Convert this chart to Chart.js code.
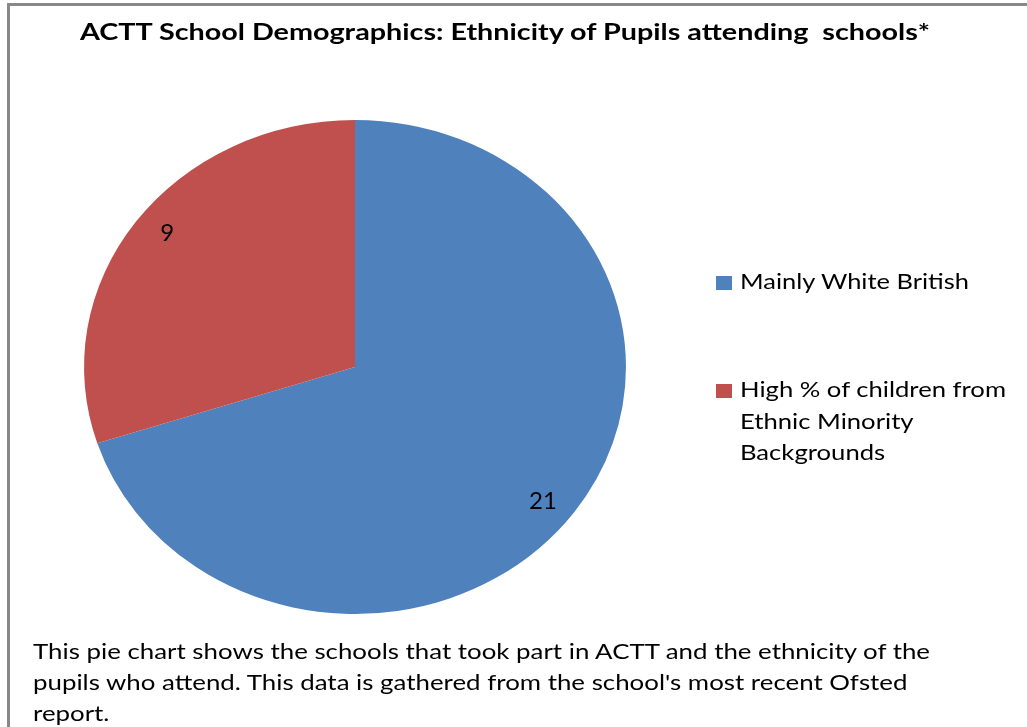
<!DOCTYPE html>
<html>
<head>
<meta charset="utf-8">
<script src="https://cdn.jsdelivr.net/npm/chart.js@4"></script>
<style>
  html, body { margin: 0; padding: 0; background: #fff; }
  body { width: 1027px; height: 727px; position: relative; overflow: hidden; font-family: Lato, "Open Sans", sans-serif; color: #000; }
  #frame { position: absolute; left: 7px; top: 3px; width: 1200px; height: 900px; border-left: 3px solid #888; border-top: 3px solid #888; box-sizing: border-box; }
  #pie { position: absolute; left: 0; top: 0; }
  .txt { position: absolute; white-space: pre; transform-origin: 0 0; }
  #title { left: 80px; top: 18px; font-size: 22px; font-weight: bold; }
  .legend-item { position: absolute; left: 716px; }
  .swatch { position: absolute; left: 0; width: 16px; height: 14px; }
  .legend-text { position: absolute; left: 24px; top: 0; font-size: 22px; line-height: 31.5px; white-space: pre; transform-origin: 0 0; }
  #caption { left: 33px; top: 635px; font-size: 21px; line-height: 31px; }
</style>
</head>
<body>
<div id="frame"></div>
<canvas id="pie" width="1027" height="727"></canvas>
<div id="title" class="txt"></div>
<div id="legend"></div>
<div id="caption" class="txt"></div>
<script>
// Chart text
const chartTitle = 'ACTT School Demographics: Ethnicity of Pupils attending  schools*';
const captionLines = [
  'This pie chart shows the schools that took part in ACTT and the ethnicity of the',
  "pupils who attend. This data is gathered from the school's most recent Ofsted",
  'report.'
];

// Categories (legend lines) and number of schools in each
const categories = ['Mainly White British', 'High % of children from Ethnic Minority Backgrounds'];
const legendLines = [['Mainly White British'], ['High % of children from', 'Ethnic Minority', 'Backgrounds']];
const schoolCounts = [21, 9];
const sliceColors = ['#4F81BD', '#C0504D'];

// Horizontal stretch of the pie (drawn as a slight ellipse)
const pieStretchX = 1.097;

// Stretch only the slices around the pie centre, then print the value labels
const ellipsePie = {
  id: 'ellipsePie',
  beforeDatasetsDraw(chart) {
    const ctx = chart.ctx;
    const a = chart.chartArea;
    const cx = (a.left + a.right) / 2;
    ctx.save();
    ctx.translate(cx, 0);
    ctx.scale(pieStretchX, 1);
    ctx.translate(-cx, 0);
  },
  afterDatasetsDraw(chart) {
    const ctx = chart.ctx;
    ctx.restore();
    const meta = chart.getDatasetMeta(0);
    const values = chart.data.datasets[0].data;
    ctx.save();
    ctx.font = '24px Lato, "Open Sans", sans-serif';
    ctx.fillStyle = '#000';
    ctx.textAlign = 'center';
    ctx.textBaseline = 'middle';
    meta.data.forEach((arc, i) => {
      const p = arc.getProps(['x', 'y', 'startAngle', 'endAngle', 'outerRadius'], true);
      const mid = (p.startAngle + p.endAngle) / 2 + 0.035;
      const r = p.outerRadius * 0.88;
      const x = p.x + Math.cos(mid) * r * pieStretchX;
      const y = p.y + Math.sin(mid) * r;
      ctx.fillText(String(values[i]), x, y);
    });
    ctx.restore();
  }
};

new Chart(document.getElementById('pie'), {
  type: 'pie',
  data: {
    labels: categories,
    datasets: [{
      data: schoolCounts,
      backgroundColor: sliceColors,
      borderWidth: 0
    }]
  },
  options: {
    responsive: false,
    animation: false,
    layout: { padding: { left: 108, right: 425, top: 120, bottom: 113 } },
    plugins: {
      legend: { display: false },
      title: { display: false },
      tooltip: { enabled: false }
    }
  },
  plugins: [ellipsePie]
});

// Title, legend and caption as page text
document.getElementById('title').textContent = chartTitle;
document.getElementById('caption').textContent = captionLines.join('\n');

const legendTops = [265, 373];
const legend = document.getElementById('legend');
legendLines.forEach((lines, i) => {
  const item = document.createElement('div');
  item.className = 'legend-item';
  item.style.top = legendTops[i] + 'px';
  const sw = document.createElement('div');
  sw.className = 'swatch';
  sw.style.background = sliceColors[i];
  sw.style.top = '11px';
  const tx = document.createElement('div');
  tx.className = 'legend-text';
  tx.textContent = lines.join('\n');
  item.appendChild(sw);
  item.appendChild(tx);
  legend.appendChild(item);
});

// Widen text runs to their set widths
function fitWidth(el, target) {
  const w = el.getBoundingClientRect().width;
  if (w > 0) el.style.transform = 'scaleX(' + (target / w) + ')';
}
fitWidth(document.getElementById('title'), 850);
fitWidth(document.getElementById('caption'), 897);
const lt = legend.querySelectorAll('.legend-text');
fitWidth(lt[0], 229);
fitWidth(lt[1], 266);
</script>
</body>
</html>
